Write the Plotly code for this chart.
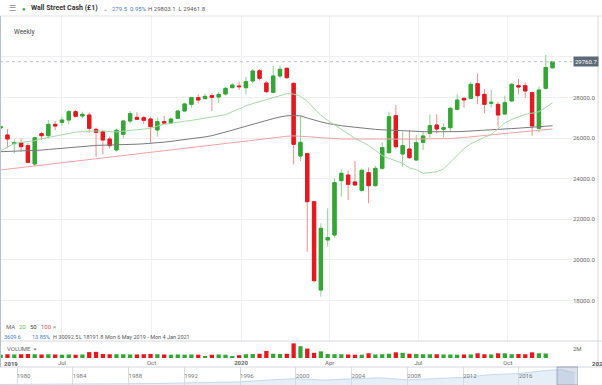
import pandas as pd
import plotly.graph_objects as go

# ---------------- data ----------------
weeks = pd.date_range("2019-04-29", periods=82, freq="7D")

open_ = [26500, 26151.1, 25726, 25775, 25627, 24724, 26218, 26120, 26678, 26777,
         26892, 27302, 27089, 27138, 26432, 26317, 25956, 25414, 26186, 26842,
         27023, 27007, 26941, 26399, 26810, 26744, 26974, 27335, 27663, 27992,
         27943, 28090, 28025, 28172, 28484, 28567, 28484, 28813, 29322, 28714,
         28254, 29059, 29437, 28698, 25118, 25233, 22869, 18518, 20980, 21227,
         23903, 24182, 23838, 23427, 24297, 23657, 24511, 25283, 27105, 25217,
         25463, 24921, 25792, 26235, 26645, 26432, 26514, 27417, 27960, 27959,
         28681, 28156, 27713, 27663, 27187, 27828, 28583, 28583, 28238, 26481,
         28452, 29461.8]
high = [26620, 26448, 25939, 25989, 25742, 26071, 26317, 26892, 26842, 27056,
        27384, 27384, 27302, 27269, 26514, 26399, 26071, 26481, 26892, 27335,
        27269, 27089, 27056, 27023, 27089, 27007, 27384, 27745, 28041, 28156,
        28189, 28205, 28287, 28534, 28731, 28780, 29026, 29404, 29404, 28813,
        29552, 29568, 29486, 28731, 27100, 25283, 22918, 21802, 22540, 24018,
        24461, 24396, 24872, 24511, 24560, 24626, 25792, 27302, 27631, 26317,
        26399, 26153, 26350, 27171, 27171, 26727, 27548, 28156, 27992, 28780,
        29190, 28419, 28369, 27795, 28090, 28698, 28911, 28747, 28287, 28534,
        30092.5, 29803.1]
low = [26440, 25496, 25250, 25332, 24757, 24626, 25906, 25989, 26399, 26612,
       26678, 27007, 26974, 26268, 25086, 25200, 25496, 25332, 25989, 26727,
       26892, 26695, 25742, 26071, 26678, 26711, 26925, 27302, 27499, 27713,
       27910, 27335, 27745, 28090, 28452, 28369, 28156, 28698, 28829, 28205,
       28205, 28944, 28911, 24708, 24872, 20406, 18895, 18191.8, 20652, 21095,
       23115, 22951, 23657, 23329, 22787, 23608, 24429, 25233, 25463, 24593,
       24970, 24872, 25414, 26021, 26235, 26021, 26350, 27368, 27499, 27910,
       27663, 27220, 27499, 26563, 27138, 27795, 28156, 27992, 26120, 26284,
       28386, 29461.8]
close = [26560, 25956, 25775, 25578, 24806, 26021, 26120, 26678, 26596, 26892,
         27302, 27072, 27171, 26481, 26284, 25906, 25627, 26383, 26842, 27204,
         26925, 26875, 26563, 26810, 26744, 26941, 27335, 27680, 27992, 27877,
         28057, 28008, 28156, 28452, 28616, 28534, 28780, 29305, 28944, 28287,
         29059, 29388, 28977, 25693, 25792, 22869, 18977, 21556, 21095, 23805,
         24264, 23723, 23690, 24412, 23657, 24511, 25529, 27056, 25578, 25627,
         25036, 25775, 26104, 26612, 26448, 26514, 27466, 27877, 27880, 28649,
         28090, 27663, 27762, 27138, 27745, 28649, 28517, 28320, 26596, 28369,
         29481.2, 29760.7]
volume_m = [0.7, 0.8, 0.75, 0.8, 0.85, 0.8, 0.75, 0.8, 0.75, 0.7,
            0.75, 0.7, 0.75, 1.25, 1.3, 0.85, 0.8, 0.8, 0.8, 0.75,
            0.75, 0.8, 0.85, 0.8, 0.75, 0.7, 0.75, 0.7, 0.75, 0.7,
            0.35, 0.7, 0.75, 0.7, 0.35, 0.6, 0.8, 0.85, 0.9, 1.5,
            0.9, 0.85, 0.9, 3.1, 2.5, 2.0, 1.1, 1.4, 0.85, 0.8,
            0.8, 0.75, 0.7, 0.7, 1.0, 0.75, 0.8, 0.9, 1.2, 1.1,
            0.9, 0.85, 0.8, 0.8, 0.8, 0.75, 0.75, 0.7, 0.75, 0.75,
            1.0, 0.8, 0.75, 1.0, 1.0, 0.8, 0.85, 0.8, 1.2, 1.0,
            0.95, 0.0]
ma20 = [25370, 25560, 25740, 25790, 25830, 25870, 25970, 26040, 26110, 26180,
        26250, 26290, 26330, 26350, 26350, 26350, 26330, 26300, 26340, 26380,
        26420, 26460, 26480, 26590, 26680, 26730, 26790, 26830, 26870, 26940,
        26990, 27040, 27100, 27150, 27300, 27450, 27590, 27700, 27800, 27900,
        27980, 28080, 28190, 28170, 28060, 27810, 27470, 27120, 26880, 26660,
        26420, 26220, 25990, 25820, 25640, 25400, 25140, 25000, 24870, 24760,
        24530, 24440, 24270, 24290, 24340, 24480, 24820, 25150, 25480, 25720,
        25900, 26040, 26170, 26440, 26750, 26920, 27040, 27170, 27230, 27300,
        27510, 27740]
ma50 = [25330, 25340, 25350, 25360, 25370, 25380, 25410, 25440, 25470, 25500,
        25540, 25570, 25600, 25630, 25640, 25650, 25655, 25660, 25670, 25690,
        25700, 25720, 25740, 25770, 25800, 25840, 25880, 25920, 25960, 26000,
        26060, 26120, 26200, 26290, 26390, 26490, 26590, 26680, 26770, 26870,
        26960, 27040, 27100, 27110, 27100, 26990, 26880, 26800, 26720, 26650,
        26610, 26570, 26530, 26490, 26460, 26430, 26410, 26390, 26370, 26350,
        26340, 26330, 26320, 26310, 26305, 26300, 26310, 26320, 26330, 26345,
        26360, 26380, 26400, 26420, 26445, 26470, 26490, 26520, 26550, 26570,
        26590, 26610]
ma100 = [24430, 24470, 24510, 24550, 24590, 24630, 24670, 24710, 24750, 24790,
         24830, 24870, 24910, 24950, 24990, 25030, 25070, 25110, 25150, 25190,
         25220, 25260, 25300, 25340, 25380, 25410, 25450, 25490, 25530, 25570,
         25610, 25650, 25690, 25730, 25770, 25810, 25850, 25890, 25930, 25970,
         26010, 26050, 26090, 26110, 26100, 26080, 26050, 26020, 25990, 25970,
         25960, 25955, 25950, 25950, 25950, 25950, 25950, 25950, 25950, 25950,
         25950, 25950, 25950, 25955, 25955, 25960, 25980, 26000, 26030, 26060,
         26090, 26120, 26150, 26180, 26210, 26240, 26280, 26320, 26360, 26390,
         26420, 26450]

quarter_ticks = ["2019-07-01", "2019-10-01", "2020-01-01", "2020-04-01",
                 "2020-07-01", "2020-10-01"]
quarter_labels = ["Jul", "Oct", "<b>2020</b>", "Apr", "Jul", "Oct"]
price_ticks = [18000, 20000, 22000, 24000, 26000, 28000, 30000]
price_tick_text = ["18000.0", "20000.0", "22000.0", "24000.0", "26000.0", "28000.0", ""]

nav_years = [1978, 1980, 1982, 1984, 1986, 1988, 1990, 1992, 1994, 1996, 1998,
             2000, 2002, 2004, 2006, 2008, 2010, 2012, 2014, 2016, 2018, 2019, 2020]
nav_values = [820, 860, 880, 1210, 1900, 2100, 2600, 3250, 3800, 5300, 8500,
              10800, 8400, 10500, 12400, 8800, 11500, 13100, 17800, 19800, 25000, 26500, 21000]
nav_label_years = [1980, 1984, 1988, 1992, 1996, 2000, 2004, 2008, 2012, 2016]

# ---------------- styles ----------------
W, H = 602, 385
RED, GREEN = "#e3191f", "#35a535"
RED_WICK, GREEN_WICK = "#f28b8b", "#8fcf8f"
FONT = "Roboto"
NAV_RANGE = [1978.78, 2020.25]
NAV_WINDOW = [2018.75, 2020.25]
px_x = lambda p: p / W
px_y = lambda p: 1 - p / H

vol_colors = [GREEN if c >= o else RED for o, c in zip(open_, close)]
body_hi = [max(o, c) for o, c in zip(open_, close)]
body_lo = [min(o, c) for o, c in zip(open_, close)]

fig = go.Figure()
# wicks (lighter)
fig.add_trace(go.Candlestick(
    x=weeks, open=open_, high=high, low=low, close=close,
    increasing=dict(line=dict(color=GREEN_WICK, width=1), fillcolor=GREEN),
    decreasing=dict(line=dict(color=RED_WICK, width=1), fillcolor=RED),
    whiskerwidth=0, hoverinfo="skip", xaxis="x", yaxis="y"))
# bodies
fig.add_trace(go.Candlestick(
    x=weeks, open=open_, high=body_hi, low=body_lo, close=close,
    increasing=dict(line=dict(color=GREEN, width=1), fillcolor=GREEN),
    decreasing=dict(line=dict(color=RED, width=1), fillcolor=RED),
    whiskerwidth=0, xaxis="x", yaxis="y"))
for vals, col in [(ma100, "#f3a3a3"), (ma50, "#7a7a7a"), (ma20, "#a6d8a6")]:
    fig.add_trace(go.Scatter(x=weeks, y=vals, mode="lines",
                             line=dict(color=col, width=1), xaxis="x", yaxis="y"))
fig.add_trace(go.Bar(x=weeks, y=[v * 1e6 for v in volume_m], marker_color=vol_colors,
                     marker_line_width=0, width=4.4 * 86400000, xaxis="x2", yaxis="y2"))
fig.add_trace(go.Scatter(x=nav_years, y=nav_values, mode="lines", fill="tozeroy",
                         line=dict(color="#c5d9ee", width=1), fillcolor="rgba(200,220,240,0.45)",
                         xaxis="x3", yaxis="y3"))

x_range = ["2019-04-28 08:00", "2020-12-06"]
fig.update_layout(
    width=W, height=H, margin=dict(l=0, r=0, t=0, b=0),
    paper_bgcolor="white", plot_bgcolor="white", showlegend=False,
    font=dict(family=FONT, size=6, color="#555"),
    xaxis=dict(domain=[0, px_x(572)], type="date", range=x_range, anchor="y",
               tickvals=quarter_ticks, showticklabels=False, showgrid=True,
               gridcolor="#f0f0f0", rangeslider=dict(visible=False), zeroline=False),
    yaxis=dict(domain=[px_y(341), px_y(16)], range=[16005, 32015], side="right",
               tickvals=price_ticks, ticktext=price_tick_text, gridcolor="#eeeeee",
               zeroline=False, tickfont=dict(size=6, color="#666"), anchor="x"),
    xaxis2=dict(domain=[0, px_x(572)], type="date", range=x_range, anchor="y2",
                matches="x", tickvals=quarter_ticks, ticktext=quarter_labels,
                showgrid=False, zeroline=False, tickfont=dict(size=6, color="#666")),
    yaxis2=dict(domain=[px_y(358), px_y(341)], range=[0, 3.6e6], side="right",
                tickvals=[2e6], ticktext=["2M"], showgrid=False, zeroline=False,
                tickfont=dict(size=6, color="#666"), anchor="x2"),
    xaxis3=dict(domain=[0, px_x(578)], range=NAV_RANGE, anchor="y3",
                tickvals=nav_label_years, ticktext=[str(y) for y in nav_label_years],
                ticklabelposition="inside right", showgrid=True, gridcolor="#d8dce4",
                zeroline=False, tickfont=dict(size=6, color="#777")),
    yaxis3=dict(domain=[0, px_y(367)], range=[0, 31000], visible=False, anchor="x3"),
)

shapes = [
    dict(type="line", xref="paper", yref="paper", x0=0, x1=1, y0=px_y(16), y1=px_y(16),
         line=dict(color="#e3e3e3", width=1)),
    dict(type="line", xref="paper", yref="paper", x0=0, x1=1, y0=px_y(341), y1=px_y(341),
         line=dict(color="#d5d8de", width=1)),
    dict(type="line", xref="paper", yref="paper", x0=0, x1=1, y0=px_y(367), y1=px_y(367),
         line=dict(color="#d5d8de", width=1)),
    dict(type="line", xref="paper", yref="y", x0=0, x1=px_x(572), y0=close[-1], y1=close[-1],
         line=dict(color="#b8bec8", width=1, dash="dot")),
    dict(type="line", xref="paper", yref="paper", x0=px_x(0.5), x1=px_x(0.5), y0=px_y(367), y1=px_y(16),
         line=dict(color="#b9bfcc", width=1)),
    dict(type="line", xref="paper", yref="paper", x0=px_x(598), x1=px_x(598), y0=px_y(367), y1=px_y(16),
         line=dict(color="#d5d8de", width=1)),
    dict(type="rect", xref="x3", yref="paper", x0=NAV_WINDOW[0], x1=NAV_WINDOW[1], y0=0, y1=px_y(367),
         fillcolor="rgba(150,170,200,0.35)", line=dict(color="#9aa6b8", width=1)),
]
fig.update_layout(shapes=shapes)

def ann(x, y, text, size=6, color="#555", xanchor="left", **kw):
    fig.add_annotation(x=px_x(x), y=px_y(y), xref="paper", yref="paper", text=text,
                       showarrow=False, xanchor=xanchor, yanchor="middle",
                       font=dict(size=size, color=color, family=FONT), **kw)

chg = close[-1] - close[-2]
ann(7, 8, "☰", size=8, color="#888")
ann(20, 8, "●", size=6, color="#3aa53a")
ann(29, 8, "<b>Wall Street Cash (£1)</b>", size=7, color="#333")
ann(101, 8, "⌄", size=6, color="#888")
ann(110, 8, f"{chg:.1f}  {chg / close[-2] * 100:.2f}%", color="#3d7cc4")
ann(146, 8, f"H {high[-1]:.1f}  L {low[-1]:.1f}", color="#555")
ann(12, 32, "Weekly", size=6.5, color="#444")
ann(4, 326, "MA", color="#666")
ann(17, 326, "20", color="#5cb85c")
ann(28, 326, "50", color="#444")
ann(39, 326, "100", color="#e05050")
ann(51, 326, "×", color="#888")
ann(2, 337, "3609.6", size=5.5, color="#3d7cc4")
ann(30, 337, "13.85%", size=5.5, color="#3d7cc4")
ann(51, 337, f"H {max(high):.1f}", size=5.5, color="#555")
ann(77, 337, f"L {min(low):.1f}", size=5.5, color="#555")
ann(103, 337, "Mon 6 May 2019 - Mon 4 Jan 2021", size=5.5, color="#555")
ann(5, 348, "VOLUME  ×", color="#666")
ann(2, 363, "<b>2019</b>", color="#555")
ann(590, 363, "<b>2021</b>", color="#555")
fig.add_annotation(x=px_x(573), y=close[-1], xref="paper", yref="y",
                   text=f"{close[-1]:.1f}", showarrow=False, xanchor="left", yanchor="middle",
                   bgcolor="#5d6a79", font=dict(size=6, color="white", family=FONT),
                   borderpad=1)

fig.write_html("out.html", config={"displayModeBar": False},
               post_script="document.body.style.margin='0';document.body.style.padding='0';")
